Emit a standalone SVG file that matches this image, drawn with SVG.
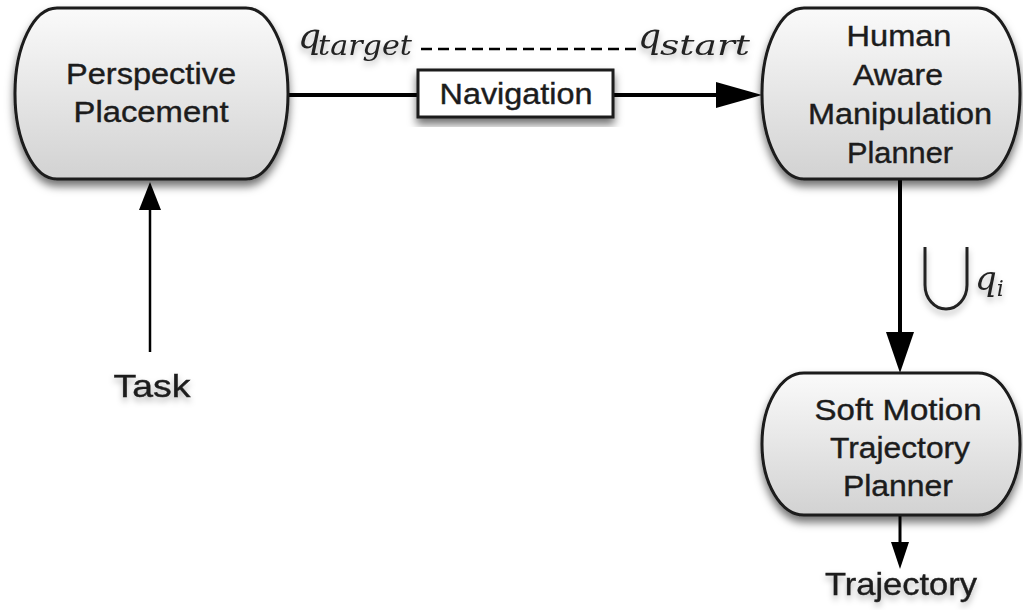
<svg xmlns="http://www.w3.org/2000/svg" width="1023" height="610" viewBox="0 0 1023 610">
<defs>
<linearGradient id="g" x1="0" y1="0" x2="0" y2="1">
<stop offset="0" stop-color="#fafafa"/>
<stop offset="1" stop-color="#d2d2d2"/>
</linearGradient>
<filter id="sh" x="-10%" y="-10%" width="120%" height="130%">
<feDropShadow dx="0" dy="6" stdDeviation="4" flood-color="#000" flood-opacity="0.55"/>
</filter>
<filter id="tsh" x="-10%" y="-20%" width="120%" height="160%">
<feDropShadow dx="0" dy="4" stdDeviation="3" flood-color="#000" flood-opacity="0.3"/>
</filter>
</defs>
<style>
.node{fill:url(#g);stroke:#1a1a1a;stroke-width:3;filter:url(#sh)}
.t{font-family:"Liberation Sans",Arial,sans-serif;font-size:29px;fill:#1c1c1c;text-anchor:middle;stroke:#1c1c1c;stroke-width:0.4}
.l{font-size:32px}
.m{font-family:"DejaVu Serif","Liberation Serif",serif;font-style:italic;fill:#222}
.c{stroke:#000;fill:none}
</style>
<rect width="1023" height="610" fill="#fff"/>
<g id="connectors">
<line class="c" x1="288" y1="95" x2="418" y2="95" stroke-width="4"/>
<line class="c" x1="613" y1="95" x2="720" y2="95" stroke-width="4"/>
<path d="M716,82 L762,95 L716,108 z" fill="#000"/>
<line class="c" x1="150" y1="352" x2="150" y2="205" stroke-width="2.5"/>
<path d="M139,210 L150,182 L161,210 z" fill="#000"/>
<line class="c" x1="900" y1="180" x2="900" y2="335" stroke-width="4"/>
<path d="M886,332 L900,373 L914,332 z" fill="#000"/>
<line class="c" x1="900" y1="515" x2="900" y2="545" stroke-width="3"/>
<path d="M891,542 L900,569 L909,542 z" fill="#000"/>
<line class="c" x1="421" y1="49" x2="637" y2="49" stroke-width="2.5" stroke-dasharray="11,6"/>
</g>
<g id="perspective">
<rect class="node" x="15" y="8" width="273" height="171" rx="42" ry="85"/>
<text class="t" x="151" y="84" textLength="170" lengthAdjust="spacingAndGlyphs">Perspective</text>
<text class="t" x="151" y="122" textLength="155" lengthAdjust="spacingAndGlyphs">Placement</text>
</g>
<g id="navigation">
<rect x="418" y="70" width="195" height="47" fill="#fff" stroke="#1a1a1a" stroke-width="3" filter="url(#sh)"/>
<text class="t" x="516" y="104" textLength="153" lengthAdjust="spacingAndGlyphs">Navigation</text>
</g>
<g id="hamp">
<rect class="node" x="762" y="8" width="258" height="171" rx="42" ry="85"/>
<text class="t" x="899" y="46" textLength="105" lengthAdjust="spacingAndGlyphs">Human</text>
<text class="t" x="898" y="85" textLength="90" lengthAdjust="spacingAndGlyphs">Aware</text>
<text class="t" x="900" y="124" textLength="184" lengthAdjust="spacingAndGlyphs">Manipulation</text>
<text class="t" x="900" y="163" textLength="106" lengthAdjust="spacingAndGlyphs">Planner</text>
</g>
<g id="softmotion">
<rect class="node" x="762" y="373" width="258" height="142" rx="42" ry="71"/>
<text class="t" x="898" y="420" textLength="167" lengthAdjust="spacingAndGlyphs">Soft Motion</text>
<text class="t" x="900" y="458" textLength="140" lengthAdjust="spacingAndGlyphs">Trajectory</text>
<text class="t" x="898" y="496" textLength="110" lengthAdjust="spacingAndGlyphs">Planner</text>
</g>
<g id="labels" filter="url(#tsh)">
<text class="t l" x="152" y="397" textLength="77" lengthAdjust="spacingAndGlyphs">Task</text>
<text class="t l" x="901" y="595" textLength="152" lengthAdjust="spacingAndGlyphs">Trajectory</text>
<text class="m" x="298" y="48" font-size="36">q<tspan font-size="28" x="318" y="55" textLength="94" lengthAdjust="spacingAndGlyphs">target</tspan></text>
<text class="m" x="638" y="48" font-size="36">q<tspan font-size="28" x="660" y="55" textLength="90" lengthAdjust="spacingAndGlyphs">start</tspan></text>
<path d="M925,247 L925,285 A21,24 0 0 0 967,285 L967,247" fill="none" stroke="#222" stroke-width="3"/>
<text class="m" x="975" y="290" font-size="34">q<tspan font-size="22" dy="6">i</tspan></text>
</g>
</svg>
